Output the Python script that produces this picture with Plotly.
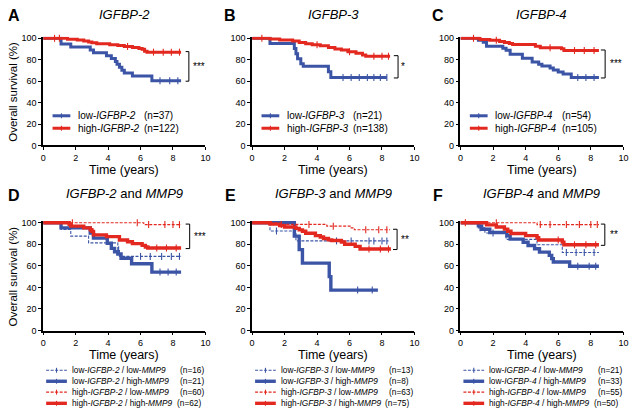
import plotly.graph_objects as go

W, H = 635, 415
BLUE = "#3B54A5"
RED = "#E2281F"
FONT = "Liberation Sans, Arial, sans-serif"

# ---------------- data (time in years, overall survival in %) ----------------
A_low_t = [0, 1.1, 1.7, 2.9, 3.1, 3.9, 4.2, 4.45, 4.55, 4.7, 4.85, 5.0, 5.5, 6.7, 8.5]
A_low_s = [100, 94.6, 91.9, 89.2, 86.5, 83.8, 81.1, 78.4, 75.7, 73.0, 70.3, 67.6, 64.9, 60.5, 60.5]
A_low_c = [7.2, 7.8, 8.3]
A_high_t = [0, 1.5, 2.1, 2.5, 2.8, 3.0, 3.3, 4.1, 4.6, 5.0, 5.5, 5.9, 6.1, 6.25, 6.4, 8.5]
A_high_s = [100, 99.2, 98.4, 97.5, 96.6, 95.8, 95.0, 94.1, 93.3, 92.4, 91.5, 90.6, 89.7, 88.0, 87.1, 87.1]
A_high_c = [0.7, 1.0, 5.2, 6.8, 7.4, 7.9, 8.4]

B_low_t = [0, 1.1, 2.6, 2.7, 2.8, 3.0, 3.15, 4.7, 4.85, 8.3]
B_low_s = [100, 95.2, 90.5, 85.7, 81.0, 76.2, 74.0, 68.7, 63.5, 63.5]
B_low_c = [5.6, 6.1, 6.6, 7.1, 7.5, 7.9, 8.3]
B_high_t = [0, 1.1, 1.7, 2.5, 2.9, 3.3, 3.7, 4.2, 4.7, 5.1, 5.5, 5.9, 6.4, 6.8, 7.0, 8.5]
B_high_s = [100, 99.3, 98.5, 97.5, 96.2, 95.0, 94.0, 93.0, 91.5, 90.0, 89.0, 87.5, 86.0, 84.5, 83.3, 83.3]
B_high_c = [0.6, 4.0, 6.0, 7.5, 8.0, 8.4]

C_low_t = [0, 1.1, 1.4, 1.6, 2.6, 2.8, 3.05, 3.8, 4.4, 4.8, 5.0, 5.5, 5.7, 6.0, 6.3, 6.8, 8.5]
C_low_s = [100, 98.1, 96.3, 92.6, 90.7, 88.9, 85.2, 81.5, 77.8, 75.9, 74.1, 72.2, 70.4, 68.5, 66.7, 63.5, 63.5]
C_low_c = [7.2, 7.7, 8.2]
C_high_t = [0, 1.2, 1.8, 2.4, 2.7, 3.0, 3.2, 4.6, 4.9, 6.2, 6.35, 8.5]
C_high_s = [100, 99.0, 98.1, 97.1, 96.2, 95.2, 94.2, 92.5, 91.3, 90.3, 88.6, 88.6]
C_high_c = [0.8, 2.2, 5.5, 7.0, 7.6, 8.2]

D_ll_t = [0, 1.1, 1.7, 2.8, 4.6, 4.7, 8.5]
D_ll_s = [100, 93.75, 87.5, 81.25, 75.0, 68.75, 68.75]
D_ll_c = [4.65, 6.0, 6.6, 7.3, 7.9, 8.4]
D_lh_t = [0, 1.1, 2.9, 3.1, 3.95, 4.2, 4.4, 4.6, 4.8, 5.45, 6.7, 8.5]
D_lh_s = [100, 95.2, 90.5, 85.7, 81.0, 76.2, 73.0, 71.0, 67.0, 61.9, 54.2, 54.2]
D_lh_c = [7.2, 7.7, 8.2]
D_hl_t = [0, 6.2, 8.5]
D_hl_s = [100, 98.2, 98.2]
D_hl_c = [1.8, 5.8, 6.5, 7.5, 8.0, 8.4]
D_hh_t = [0, 1.6, 1.7, 2.5, 2.9, 3.0, 3.1, 3.9, 4.7, 5.2, 5.5, 6.1, 6.3, 6.45, 8.5]
D_hh_s = [100, 98.4, 96.8, 95.2, 93.5, 91.9, 88.7, 87.1, 84.0, 82.3, 80.6, 79.0, 77.4, 76.5, 76.5]
D_hh_c = [7.0, 7.6, 8.2]

E_ll_t = [0, 1.1, 2.7, 8.4]
E_ll_s = [100, 92.3, 83.1, 83.1]
E_ll_c = [1.5, 5.2, 6.1, 7.2, 7.5, 8.0, 8.3]
E_lh_t = [0, 2.6, 2.9, 3.1, 4.75, 4.85, 7.75]
E_lh_s = [100, 87.5, 75.0, 62.5, 50.0, 37.5, 37.5]
E_lh_c = [6.5, 7.4]
E_hl_t = [0, 1.5, 4.6, 6.1, 6.3, 8.5]
E_hl_s = [100, 98.4, 96.8, 95.2, 93.4, 93.4]
E_hl_c = [1.8, 3.5, 5.0, 7.0, 7.8, 8.3]
E_hh_t = [0, 1.1, 1.7, 2.0, 2.7, 2.9, 3.1, 3.3, 3.9, 4.2, 4.4, 4.7, 4.9, 5.5, 5.7, 6.35, 6.65, 8.55]
E_hh_s = [100, 98.7, 97.3, 96.0, 94.7, 93.3, 92.0, 90.2, 88.0, 86.7, 85.3, 84.1, 83.5, 82.1, 80.0, 78.0, 75.6, 75.6]
E_hh_c = [7.2, 7.9, 8.4]

F_ll_t = [0, 1.1, 1.5, 2.8, 4.7, 6.25, 8.5]
F_ll_s = [100, 95.2, 90.5, 84.5, 79.5, 72.3, 72.3]
F_ll_c = [1.2, 2.0, 6.5, 7.1, 7.6, 8.2]
F_lh_t = [0, 1.1, 1.3, 1.8, 2.85, 3.05, 3.85, 4.15, 4.55, 4.85, 5.45, 5.6, 5.7, 6.7, 8.5]
F_lh_s = [100, 97.0, 93.9, 90.9, 87.9, 84.8, 81.8, 78.8, 75.8, 72.7, 69.7, 66.7, 63.6, 59.6, 59.6]
F_lh_c = [7.2, 7.9, 8.3]
F_hl_t = [0, 4.7, 8.5]
F_hl_s = [100, 98.2, 98.2]
F_hl_c = [0.3, 2.2, 4.9, 5.5, 6.5, 7.3, 8.0, 8.4]
F_hh_t = [0, 1.6, 2.2, 2.7, 2.9, 3.1, 4.0, 4.7, 4.8, 6.25, 6.35, 8.5]
F_hh_s = [100, 98, 96, 94, 92, 90, 88, 86, 84, 82, 79.5, 79.5]
F_hh_c = [6.0, 7.0, 7.7, 8.3]

# labels
TOP_GENES = ["IGFBP-2", "IGFBP-3", "IGFBP-4"]
TOP_N = [(37, 122), (21, 138), (54, 105)]
BOT_N = [(16, 21, 60, 62), (13, 8, 63, 75), (21, 33, 55, 50)]
STARS = ["***", "*", "***", "***", "**", "**"]
LETTERS = ["A", "B", "C", "D", "E", "F"]
X_TICKS = [0, 2, 4, 6, 8, 10]
Y_TICKS = [0, 20, 40, 60, 80, 100]

# ---------------- styles / geometry ----------------
THICK = dict(width=3.0, dash="solid")
DASH = dict(width=1.1, dash="3px,1.5px")
SOLID_B = dict(width=3.4, dash="solid")

X0 = [40.7, 252.3, 463.3]
X1 = [205.0, 416.7, 628.3]
ROW_Y100 = [36.0, 224.0]
ROW_Y0 = [145.3, 334.0]
YMAX = 101.5

panels = [
    dict(curves=[(A_low_t, A_low_s, A_low_c, BLUE, THICK), (A_high_t, A_high_s, A_high_c, RED, THICK)],
         br=(1, 0), bx=(8.78, 8.98), sx=9.6),
    dict(curves=[(B_low_t, B_low_s, B_low_c, BLUE, THICK), (B_high_t, B_high_s, B_high_c, RED, THICK)],
         br=(1, 0), bx=(8.73, 8.99), sx=9.3),
    dict(curves=[(C_low_t, C_low_s, C_low_c, BLUE, THICK), (C_high_t, C_high_s, C_high_c, RED, THICK)],
         br=(1, 0), bx=(8.62, 8.88), sx=9.55),
    dict(curves=[(D_ll_t, D_ll_s, D_ll_c, BLUE, DASH), (D_lh_t, D_lh_s, D_lh_c, BLUE, SOLID_B),
                 (D_hl_t, D_hl_s, D_hl_c, RED, DASH), (D_hh_t, D_hh_s, D_hh_c, RED, SOLID_B)],
         br=(2, 3), bx=(8.78, 9.03), sx=9.65),
    dict(curves=[(E_ll_t, E_ll_s, E_ll_c, BLUE, DASH), (E_lh_t, E_lh_s, E_lh_c, BLUE, SOLID_B),
                 (E_hl_t, E_hl_s, E_hl_c, RED, DASH), (E_hh_t, E_hh_s, E_hh_c, RED, SOLID_B)],
         br=(2, 3), bx=(8.68, 8.93), sx=9.4),
    dict(curves=[(F_ll_t, F_ll_s, F_ll_c, BLUE, DASH), (F_lh_t, F_lh_s, F_lh_c, BLUE, SOLID_B),
                 (F_hl_t, F_hl_s, F_hl_c, RED, DASH), (F_hh_t, F_hh_s, F_hh_c, RED, SOLID_B)],
         br=(2, 3), bx=(8.62, 8.86), sx=9.45),
]


def step_at(t, s, x):
    v = s[0]
    for ti, si in zip(t, s):
        if ti <= x:
            v = si
        else:
            break
    return v


def px(x):
    return x / W


def py(y):
    return 1 - y / H


def tfont(size):
    return dict(size=size, family=FONT, color="black")


fig = go.Figure()
layout = dict(width=W, height=H, margin=dict(l=0, r=0, t=0, b=0),
              paper_bgcolor="white", plot_bgcolor="white", showlegend=False,
              font=dict(family=FONT, color="black"))
annotations = []
shapes = []

for i, p in enumerate(panels):
    row, col = divmod(i, 3)
    k = i + 1
    xa = "x" if k == 1 else f"x{k}"
    ya = "y" if k == 1 else f"y{k}"
    y0p, y100p = ROW_Y0[row], ROW_Y100[row]
    ytop = y0p - (y0p - y100p) * YMAX / 100
    axis_common = dict(showline=True, linecolor="black", linewidth=1.5, ticks="outside",
                       ticklen=3, tickwidth=1.3, tickcolor="black", showgrid=False, zeroline=False,
                       tickfont=tfont(9), fixedrange=True)
    layout["xaxis" if k == 1 else f"xaxis{k}"] = dict(
        domain=[px(X0[col]), px(X1[col])], range=[0, 10], tickvals=X_TICKS,
        anchor=ya, **axis_common)
    layout["yaxis" if k == 1 else f"yaxis{k}"] = dict(
        domain=[py(y0p), py(ytop)], range=[0, YMAX], tickvals=Y_TICKS,
        anchor=xa, **axis_common)

    for (t, s, c, color, st) in p["curves"]:
        fig.add_trace(go.Scatter(x=t, y=s, mode="lines", line_shape="hv", xaxis=xa, yaxis=ya,
                                 line=dict(color=color, width=st["width"], dash=st["dash"]),
                                 hoverinfo="skip"))
        fig.add_trace(go.Scatter(x=c, y=[step_at(t, s, v) for v in c], mode="markers",
                                 xaxis=xa, yaxis=ya, cliponaxis=False, hoverinfo="skip",
                                 marker=dict(symbol="line-ns", size=5,
                                             line=dict(width=1.1, color=color))))

    # significance bracket between final survival values
    sa = p["curves"][p["br"][0]][1]
    sb = p["curves"][p["br"][1]][1]
    top, bot = max(sa[-1], sb[-1]) + 0.5, min(sa[-1], sb[-1]) - 0.5
    hx, vx = p["bx"]
    shapes.append(dict(type="path", xref=xa, yref=ya,
                       path=f"M{hx},{top} L{vx},{top} L{vx},{bot} L{hx},{bot}",
                       line=dict(color="black", width=1)))
    annotations.append(dict(x=p["sx"], y=(top + bot) / 2, xref=xa, yref=ya, text=STARS[i],
                            showarrow=False, font=tfont(10),
                            xanchor="center", yanchor="middle"))

    # panel letter and title
    cx = (X0[col] + X1[col]) / 2
    ty = 11.5 if row == 0 else 194.5
    if row == 0:
        title = f"<i>{TOP_GENES[col]}</i>"
    else:
        title = f"<i>{TOP_GENES[col]}</i> and <i>MMP9</i>"
    annotations.append(dict(x=px(cx), y=py(ty), xref="paper", yref="paper", text=title,
                            showarrow=False, font=tfont(13),
                            xanchor="center", yanchor="middle"))
    lx = [11, 230, 441][col]
    annotations.append(dict(x=px(lx), y=py(ty + 1.5), xref="paper", yref="paper",
                            text=f"<b>{LETTERS[i]}</b>", showarrow=False,
                            font=tfont(16), xanchor="center", yanchor="middle"))

    # x axis title
    annotations.append(dict(x=px(cx), y=py(y0p + 24.5), xref="paper", yref="paper",
                            text="Time (years)", showarrow=False, font=tfont(12.5),
                            xanchor="center", yanchor="middle"))
    if col == 0:
        annotations.append(dict(x=px(10), y=py((y0p + y100p) / 2), xref="paper", yref="paper",
                                text="Overall survival (%)", showarrow=False, textangle=-90,
                                font=tfont(11.5), xanchor="center", yanchor="middle"))

    # legends
    if row == 0:
        g = TOP_GENES[col]
        items = [(f"low-<i>{g}</i>", TOP_N[col][0], BLUE), (f"high-<i>{g}</i>", TOP_N[col][1], RED)]
        for j, (lab, n, color) in enumerate(items):
            ypap = py([115.0, 127.7][j])
            xs0 = px(X0[col] + 9.5)
            xs1 = px(X0[col] + 27.5)
            shapes.append(dict(type="line", xref="paper", yref="paper", x0=xs0, x1=xs1,
                               y0=ypap, y1=ypap, line=dict(color=color, width=3)))
            xm = (xs0 + xs1) / 2
            shapes.append(dict(type="line", xref="paper", yref="paper", x0=xm, x1=xm,
                               y0=ypap - 2.5 / H, y1=ypap + 2.5 / H, line=dict(color=color, width=1.1)))
            annotations.append(dict(x=px(X0[col] + 33), y=ypap, xref="paper", yref="paper",
                                    text=lab, showarrow=False, font=tfont(10),
                                    xanchor="left", yanchor="middle"))
            annotations.append(dict(x=px(X0[col] + 100.5), y=ypap, xref="paper", yref="paper",
                                    text=f"(n={n})", showarrow=False, font=tfont(10),
                                    xanchor="left", yanchor="middle"))
    else:
        g = TOP_GENES[col]
        labs = [f"low-<i>{g}</i> / low-<i>MMP9</i>", f"low-<i>{g}</i> / high-<i>MMP9</i>",
                f"high-<i>{g}</i> / low-<i>MMP9</i>", f"high-<i>{g}</i> / high-<i>MMP9</i>"]
        styles = [(BLUE, DASH), (BLUE, SOLID_B), (RED, DASH), (RED, SOLID_B)]
        rows_y = [374.5, 385.7, 396.8, 408.2]
        nx = [137, 137, 137, [134, 133, 133][col]]
        for j in range(4):
            color, st = styles[j]
            ypap = py(rows_y[j])
            xs0 = px(X0[col] + 3)
            xs1 = px(X0[col] + 24)
            shapes.append(dict(type="line", xref="paper", yref="paper", x0=xs0, x1=xs1,
                               y0=ypap, y1=ypap, line=dict(color=color, width=st["width"], dash=st["dash"])))
            xm = (xs0 + xs1) / 2
            shapes.append(dict(type="line", xref="paper", yref="paper", x0=xm, x1=xm,
                               y0=ypap - 2.5 / H, y1=ypap + 2.5 / H, line=dict(color=color, width=1.1)))
            annotations.append(dict(x=px(X0[col] + 27), y=ypap, xref="paper", yref="paper",
                                    text=labs[j], showarrow=False, font=tfont(8.3),
                                    xanchor="left", yanchor="middle"))
            annotations.append(dict(x=px(X0[col] + nx[j]), y=ypap, xref="paper", yref="paper",
                                    text=f"(n={BOT_N[col][j]})", showarrow=False,
                                    font=tfont(8.3), xanchor="left", yanchor="middle"))

layout["annotations"] = annotations
layout["shapes"] = shapes
fig.update_layout(**layout)
fig.write_html("out.html", config={"displayModeBar": False},
               post_script="document.body.style.margin='0';document.body.style.overflow='hidden';")
